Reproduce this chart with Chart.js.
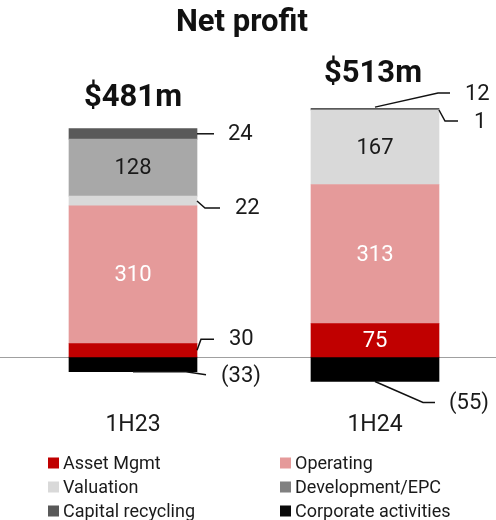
<!DOCTYPE html>
<html>
<head>
<meta charset="utf-8">
<script src="https://cdn.jsdelivr.net/npm/chart.js@4"></script>
<style>
  html, body { margin: 0; padding: 0; background: #fff; }
  #wrap { width: 496px; height: 520px; }
</style>
</head>
<body>
<div id="wrap"><canvas id="profitChart" width="496" height="520"></canvas></div>
<script>
// Net profit by segment, A$m
const periods = ['1H23', '1H24'];
const assetMgmt = [30, 75];
const operating = [310, 313];
const valuation = [22, 167];
const developmentEpc = [128, 1];
const capitalRecycling = [24, 12];
const corporateActivities = [-33, -55];

const FONT = 'Roboto';
const TEXT = '#1a1a1a';

// which segments get a centred label, and which get a leader line
const insideLabels = [
  { ds: 1, i: 0, color: '#fff' },
  { ds: 3, i: 0, color: TEXT },
  { ds: 0, i: 1, color: '#fff' },
  { ds: 1, i: 1, color: '#fff' },
  { ds: 2, i: 1, color: TEXT }
];
const callouts = [
  { ds: 4, i: 0, from: 'right', path: [[17, 0]], text: [31, 1] },
  { ds: 2, i: 0, from: 'right', path: [[8, 7], [23, 7]], text: [38, 8] },
  { ds: 0, i: 0, from: 'right', path: [[4, -11], [17, -11]], text: [32, -11] },
  { ds: 5, i: 0, from: 'bottom', path: [[53, 0], [73, 3]], text: [88, 5] },
  { ds: 4, i: 1, from: 'center', path: [[63, -14], [75, -14]], text: [90, -13] },
  { ds: 3, i: 1, from: 'right', path: [[6, 11], [19, 11]], text: [35, 12] },
  { ds: 5, i: 1, from: 'bottom', path: [[48, 21], [60, 21]], text: [74, 22] }
];

function fmt(v) {
  return v < 0 ? '(' + Math.abs(v) + ')' : String(v);
}

const netProfitPlugin = {
  id: 'netProfit',
  beforeDatasetsDraw(chart) {
    const ctx = chart.ctx;
    const y0 = Math.round(chart.scales.y.getPixelForValue(0)) + 0.5;
    ctx.save();
    ctx.strokeStyle = '#a0a0a0';
    ctx.lineWidth = 1;
    ctx.beginPath();
    ctx.moveTo(0, y0);
    ctx.lineTo(chart.width, y0);
    ctx.stroke();
    ctx.restore();
  },
  afterDatasetsDraw(chart) {
    const ctx = chart.ctx;
    const ds = chart.data.datasets;
    ctx.save();

    // title
    ctx.fillStyle = '#111';
    ctx.font = 'bold 31px ' + FONT;
    ctx.textAlign = 'center';
    ctx.textBaseline = 'middle';
    ctx.fillText('Net profit', 242, 23);

    // totals above each stack
    periods.forEach((p, i) => {
      let total = 0, top = Infinity, cx = 0;
      ds.forEach((d, k) => {
        total += d.data[i];
        const el = chart.getDatasetMeta(k).data[i];
        cx = el.x;
        top = Math.min(top, el.y, el.base);
      });
      ctx.font = 'bold 31px ' + FONT;
      ctx.fillStyle = '#111';
      ctx.fillText('$' + total + 'm', cx - 2 * i, top - 30);
    });

    // labels inside segments
    ctx.font = '22px ' + FONT;
    insideLabels.forEach(l => {
      const el = chart.getDatasetMeta(l.ds).data[l.i];
      ctx.fillStyle = l.color;
      ctx.fillText(fmt(ds[l.ds].data[l.i]), el.x, (el.y + el.base) / 2 + 1);
    });

    // leader-line labels
    ctx.strokeStyle = '#111';
    ctx.lineWidth = 1.5;
    ctx.textAlign = 'left';
    callouts.forEach(c => {
      const el = chart.getDatasetMeta(c.ds).data[c.i];
      const midY = (el.y + el.base) / 2;
      const bottom = Math.max(el.y, el.base);
      let ax, ay;
      if (c.from === 'right') { ax = el.x + el.width / 2; ay = midY; }
      else if (c.from === 'bottom') { ax = el.x; ay = bottom; }
      else { ax = el.x; ay = midY; }
      ctx.beginPath();
      ctx.moveTo(ax, ay);
      c.path.forEach(pt => ctx.lineTo(ax + pt[0], ay + pt[1]));
      ctx.stroke();
      ctx.fillStyle = TEXT;
      ctx.fillText(fmt(ds[c.ds].data[c.i]), ax + c.text[0], ay + c.text[1]);
    });

    // two column legend
    const cols = [48, 280];
    const rows = [463, 487, 511];
    ctx.font = '18px ' + FONT;
    ds.forEach((d, k) => {
      const x = cols[k % 2];
      const y = rows[Math.floor(k / 2)];
      ctx.fillStyle = d.legendColor || d.backgroundColor;
      ctx.fillRect(x, y - 5.5, 11, 11);
      ctx.fillStyle = TEXT;
      ctx.fillText(d.label, x + 15, y + 1);
    });
    ctx.restore();
  }
};

const ctx = document.getElementById('profitChart').getContext('2d');
new Chart(ctx, {
  type: 'bar',
  data: {
    labels: periods,
    datasets: [
      { label: 'Asset Mgmt', data: assetMgmt, backgroundColor: '#c00000' },
      { label: 'Operating', data: operating, backgroundColor: '#e59a9a' },
      { label: 'Valuation', data: valuation, backgroundColor: '#d9d9d9' },
      { label: 'Development/EPC', data: developmentEpc, backgroundColor: '#a8a8a8', legendColor: '#808080' },
      { label: 'Capital recycling', data: capitalRecycling, backgroundColor: '#595959' },
      { label: 'Corporate activities', data: corporateActivities, backgroundColor: '#000000', legendColor: '#0a0a0a' }
    ]
  },
  options: {
    responsive: false,
    animation: false,
    layout: { padding: { top: 108, left: 12, right: 0, bottom: 80 } },
    datasets: { bar: { barThickness: 128, borderWidth: 0 } },
    plugins: {
      legend: { display: false },
      tooltip: { enabled: false }
    },
    scales: {
      x: {
        stacked: true,
        grid: { display: false, drawTicks: false },
        border: { display: false },
        ticks: { color: TEXT, font: { family: FONT, size: 23 }, padding: 1, maxRotation: 0 }
      },
      y: {
        stacked: true,
        display: false,
        min: -120,
        max: 560
      }
    }
  },
  plugins: [netProfitPlugin]
});
</script>
</body>
</html>
